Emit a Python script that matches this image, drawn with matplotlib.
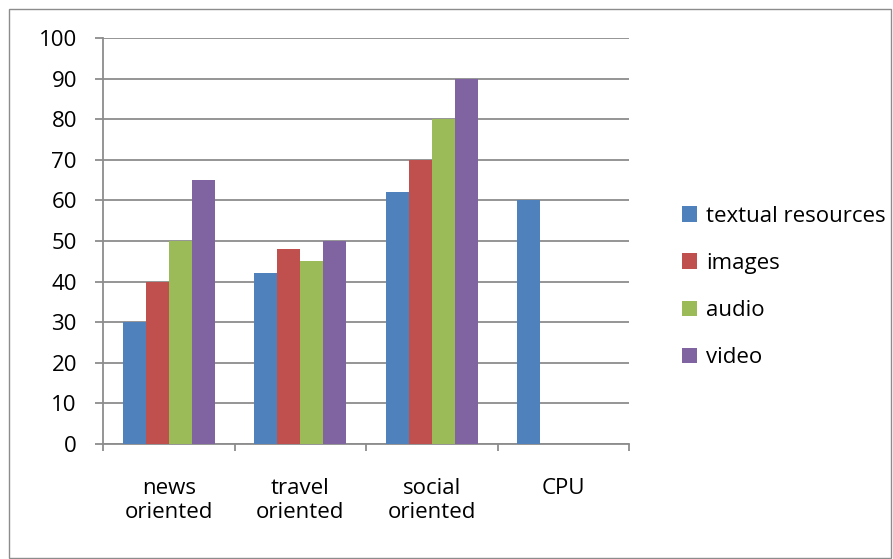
import numpy as np
from matplotlib import pyplot as plt
from matplotlib.patches import Rectangle

categories = ['news\noriented', 'travel\noriented', 'social\noriented', 'CPU']
series = ['textual resources', 'images', 'audio', 'video']
textual = [30, 42, 62, 60]
images = [40, 48, 70, 0]
audio = [50, 45, 80, 0]
video = [65, 50, 90, 0]
colors = ['#4f81bd', '#c0504d', '#9bbb59', '#8064a2']

plt.rcParams['font.family'] = ['Open Sans', 'DejaVu Sans']
fs = 16
W, H = 893, 559

fig = plt.figure(figsize=(W / 100, H / 100), dpi=100)
# chart area border
fig.patches.append(Rectangle((9 / W, 1.5 / H), (891 - 9) / W, (550 - 1.5) / H,
                             transform=fig.transFigure, fill=False,
                             edgecolor='#8c8c8c', linewidth=1))
ax = fig.add_axes([103 / W, 1 - 444 / H, 526 / W, 406 / H])

x = np.arange(len(categories))
w = 0.175
for i, vals in enumerate([textual, images, audio, video]):
    ax.bar(x + (i - 1.5) * w, vals, width=w, color=colors[i], label=series[i], zorder=3)

ax.set_xlim(-0.5, len(categories) - 0.5)
ax.set_ylim(0, 100)
ax.set_yticks(range(0, 101, 10))
ax.yaxis.grid(True, color='#8c8c8c', linewidth=1.3, zorder=0)
ax.set_xticks(x)
ax.set_xticklabels(categories, fontsize=fs, linespacing=1.2)
ax.set_xticks(np.arange(-0.5, len(categories)), minor=True)
ax.tick_params(axis='x', which='major', length=0, pad=24.5)
ax.tick_params(axis='x', which='minor', length=5, color='#8c8c8c', width=1.3)
ax.tick_params(axis='y', length=5.8, color='#8c8c8c', width=1.3, labelsize=fs, pad=13)
for s in ['top', 'right']:
    ax.spines[s].set_visible(False)
for s in ['left', 'bottom']:
    ax.spines[s].set_color('#8c8c8c')
    ax.spines[s].set_linewidth(1.3)

fig.legend(loc='center left', bbox_to_anchor=(671 / W, 1 - 287 / H), frameon=False,
           fontsize=fs, borderpad=0, handlelength=0.68, handleheight=0.68,
           handletextpad=0.4, labelspacing=1.18)

fig.savefig('out.png', dpi=100)
